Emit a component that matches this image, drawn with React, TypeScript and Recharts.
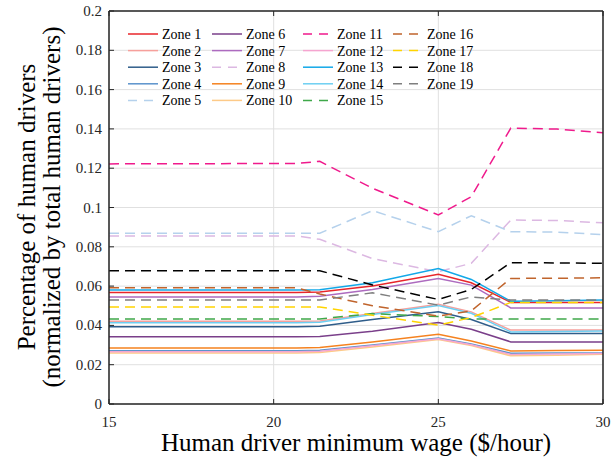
import { LineChart, Line, XAxis, YAxis, CartesianGrid } from 'recharts';

// wage points ($/hour)
const wages = [15, 20.7, 21.4, 23, 25, 26, 27.2, 28.6, 30];

const zone1 = [0.0568, 0.0568, 0.057, 0.06, 0.066, 0.0617, 0.0517, 0.0517, 0.0517];
const zone2 = [0.0421, 0.0421, 0.0423, 0.0461, 0.0508, 0.0469, 0.0376, 0.0376, 0.0376];
const zone3 = [0.0393, 0.0393, 0.0396, 0.043, 0.0469, 0.043, 0.0359, 0.0359, 0.0359];
const zone4 = [0.0271, 0.0271, 0.0273, 0.03, 0.0336, 0.0306, 0.0258, 0.0259, 0.026];
const zone5 = [0.0869, 0.0869, 0.0869, 0.0984, 0.0877, 0.0958, 0.0877, 0.0875, 0.0862];
const zone6 = [0.0342, 0.0342, 0.0344, 0.037, 0.0415, 0.038, 0.0316, 0.0316, 0.0316];
const zone7 = [0.0545, 0.0545, 0.0548, 0.0583, 0.0639, 0.0605, 0.0489, 0.0489, 0.0489];
const zone8 = [0.0855, 0.0855, 0.0838, 0.074, 0.0673, 0.0716, 0.0936, 0.0934, 0.0922];
const zone9 = [0.0285, 0.0285, 0.0288, 0.0316, 0.0355, 0.0321, 0.027, 0.0272, 0.0274];
const zone10 = [0.026, 0.026, 0.0262, 0.029, 0.0328, 0.0298, 0.0245, 0.0248, 0.0253];
const zone11 = [0.1222, 0.1224, 0.1235, 0.1098, 0.0962, 0.1055, 0.1404, 0.1399, 0.1381];
const zone12 = [0.0266, 0.0266, 0.0268, 0.0296, 0.0332, 0.0302, 0.0252, 0.0254, 0.0257];
const zone13 = [0.058, 0.058, 0.0582, 0.0617, 0.069, 0.0634, 0.0523, 0.0526, 0.0529];
const zone14 = [0.0413, 0.0413, 0.0416, 0.0455, 0.0501, 0.0462, 0.0367, 0.0369, 0.0371];
const zone15 = [0.0432, 0.0432, 0.0433, 0.046, 0.0445, 0.0432, 0.0432, 0.0432, 0.0433];
const zone16 = [0.0591, 0.0591, 0.056, 0.05, 0.0447, 0.0474, 0.0639, 0.064, 0.0642];
const zone17 = [0.0494, 0.0494, 0.0494, 0.0452, 0.0401, 0.044, 0.0517, 0.0517, 0.0517];
const zone18 = [0.0678, 0.0678, 0.0678, 0.0606, 0.0532, 0.0583, 0.0719, 0.0718, 0.0716];
const zone19 = [0.0529, 0.0529, 0.0529, 0.0566, 0.0503, 0.0545, 0.0529, 0.0529, 0.0529];

const xTicks = [15, 20, 25, 30];
const yTicks = [0, 0.02, 0.04, 0.06, 0.08, 0.1, 0.12, 0.14, 0.16, 0.18, 0.2];

const series = [
  { name: 'Zone 1', values: zone1, color: '#e8262b', dashed: false },
  { name: 'Zone 2', values: zone2, color: '#f6a09c', dashed: false },
  { name: 'Zone 3', values: zone3, color: '#2f5d8a', dashed: false },
  { name: 'Zone 4', values: zone4, color: '#5b93cc', dashed: false },
  { name: 'Zone 5', values: zone5, color: '#b5d1ec', dashed: true },
  { name: 'Zone 6', values: zone6, color: '#7a3f8a', dashed: false },
  { name: 'Zone 7', values: zone7, color: '#ad6bbf', dashed: false },
  { name: 'Zone 8', values: zone8, color: '#dcb8e2', dashed: true },
  { name: 'Zone 9', values: zone9, color: '#f5821f', dashed: false },
  { name: 'Zone 10', values: zone10, color: '#fdca88', dashed: false },
  { name: 'Zone 11', values: zone11, color: '#ef1a8c', dashed: true },
  { name: 'Zone 12', values: zone12, color: '#f5a5d0', dashed: false },
  { name: 'Zone 13', values: zone13, color: '#12a8e8', dashed: false },
  { name: 'Zone 14', values: zone14, color: '#6dcff2', dashed: false },
  { name: 'Zone 15', values: zone15, color: '#3fa84a', dashed: true },
  { name: 'Zone 16', values: zone16, color: '#c0642c', dashed: true },
  { name: 'Zone 17', values: zone17, color: '#ffd400', dashed: true },
  { name: 'Zone 18', values: zone18, color: '#000000', dashed: true },
  { name: 'Zone 19', values: zone19, color: '#7f7f7f', dashed: true },
];

const rows = wages.map((w, i) => {
  const row: Record<string, number> = { wage: w };
  series.forEach((s) => {
    row[s.name] = s.values[i];
  });
  return row;
});

const FONT = '"Liberation Serif", "Times New Roman", serif';
const AXIS = '#262626';
const DASH = '10 6';

const fmt = (v: number) => String(Number(v.toFixed(2)));

const BottomTick = ({ x, y, payload }: any) => (
  <g>
    <line x1={x} x2={x} y1={y} y2={y - 5} stroke={AXIS} strokeWidth={1} />
    <text x={x} y={y + 23} textAnchor="middle" fontSize={15} fontFamily={FONT} fill={AXIS}>
      {fmt(payload.value)}
    </text>
  </g>
);

const TopTick = ({ x, y }: any) => (
  <line x1={x} x2={x} y1={y} y2={y + 5} stroke={AXIS} strokeWidth={1} />
);

const LeftTick = ({ x, y, payload }: any) => (
  <g>
    <line x1={x} x2={x + 5} y1={y} y2={y} stroke={AXIS} strokeWidth={1} />
    <text x={x - 7} y={y + 5} textAnchor="end" fontSize={15} fontFamily={FONT} fill={AXIS}>
      {fmt(payload.value)}
    </text>
  </g>
);

const RightTick = ({ x, y }: any) => (
  <line x1={x} x2={x - 5} y1={y} y2={y} stroke={AXIS} strokeWidth={1} />
);

const legendCols = [128, 212, 303, 393];
const legendTop = 34;
const legendRow = 16.6;

export default function App() {
  return (
    <div style={{ position: 'relative', width: 614, height: 460, background: '#fff' }}>
      <style>{'body{margin:0}'}</style>
      <LineChart
        width={614}
        height={460}
        data={rows}
        margin={{ top: 0, right: 0, bottom: 0, left: 0 }}
      >
        <CartesianGrid stroke="#e0e0e0" strokeWidth={1} />
        <XAxis
          dataKey="wage"
          type="number"
          domain={[15, 30]}
          ticks={xTicks}
          height={56}
          tickSize={0}
          tickMargin={0}
          tick={<BottomTick />}
          axisLine={{ stroke: AXIS, strokeWidth: 1.5 }}
          tickLine={false}
        />
        <XAxis
          xAxisId="top"
          orientation="top"
          dataKey="wage"
          type="number"
          domain={[15, 30]}
          ticks={xTicks}
          height={11}
          tickSize={0}
          tickMargin={0}
          tick={<TopTick />}
          axisLine={{ stroke: AXIS, strokeWidth: 1.5 }}
          tickLine={false}
        />
        <YAxis
          type="number"
          domain={[0, 0.2]}
          ticks={yTicks}
          width={109}
          tickSize={0}
          tickMargin={0}
          tick={<LeftTick />}
          axisLine={{ stroke: AXIS, strokeWidth: 1.5 }}
          tickLine={false}
        />
        <YAxis
          yAxisId="right"
          orientation="right"
          type="number"
          domain={[0, 0.2]}
          ticks={yTicks}
          width={11}
          tickSize={0}
          tickMargin={0}
          tick={<RightTick />}
          axisLine={{ stroke: AXIS, strokeWidth: 1.5 }}
          tickLine={false}
        />
        {series.map((s) => (
          <Line
            key={s.name}
            type="linear"
            dataKey={s.name}
            stroke={s.color}
            strokeWidth={1.5}
            strokeDasharray={s.dashed ? DASH : undefined}
            dot={false}
            activeDot={false}
            isAnimationActive={false}
          />
        ))}
      </LineChart>
      <svg
        width={614}
        height={460}
        style={{ position: 'absolute', left: 0, top: 0, pointerEvents: 'none' }}
        fontFamily={FONT}
      >
        {series.map((s, i) => {
          const col = Math.floor(i / 5);
          const row = i % 5;
          const x = legendCols[col];
          const y = legendTop + row * legendRow;
          return (
            <g key={s.name}>
              <line
                x1={x}
                x2={x + 30}
                y1={y}
                y2={y}
                stroke={s.color}
                strokeWidth={1.5}
                strokeDasharray={s.dashed ? '9 7' : undefined}
              />
              <text x={x + 34} y={y + 5} fontSize={14} fill="#000">
                {s.name}
              </text>
            </g>
          );
        })}
        <text x={356} y={451} textAnchor="middle" fontSize={25} fill="#000">
          Human driver minimum wage ($/hour)
        </text>
        <g transform="translate(35 207) rotate(-90)">
          <text x={0} y={0} textAnchor="middle" fontSize={25} fill="#000">
            Percentage of human drivers
          </text>
          <text x={0} y={25} textAnchor="middle" fontSize={25} fill="#000">
            (normalized by total human drivers)
          </text>
        </g>
      </svg>
    </div>
  );
}
